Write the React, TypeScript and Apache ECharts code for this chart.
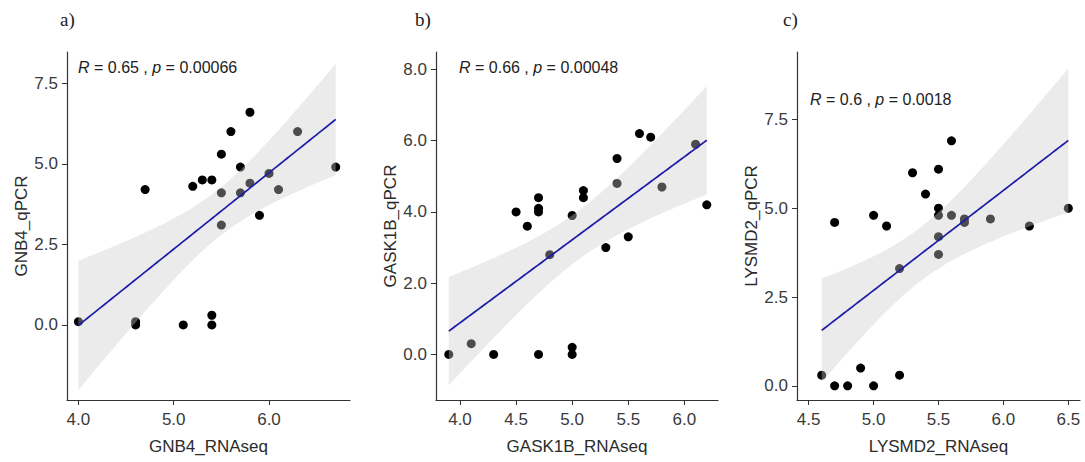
import React, { useEffect, useRef } from "react";
import * as echarts from "echarts";

// ---- Data ----
const aRNA = [4.0, 4.6, 4.6, 4.7, 5.1, 5.2, 5.3, 5.4, 5.4, 5.4, 5.5, 5.5, 5.5, 5.6, 5.7, 5.7, 5.8, 5.8, 5.9, 6.0, 6.1, 6.3, 6.7];
const aPCR = [0.1, 0.1, 0.0, 4.2, 0.0, 4.3, 4.5, 4.5, 0.3, 0.0, 5.3, 4.1, 3.1, 6.0, 4.9, 4.1, 6.6, 4.4, 3.4, 4.7, 4.2, 6.0, 4.9];

const bRNA = [3.9, 4.1, 4.3, 4.5, 4.6, 4.7, 4.7, 4.7, 4.7, 4.8, 5.0, 5.0, 5.0, 5.1, 5.1, 5.3, 5.4, 5.4, 5.5, 5.6, 5.7, 5.8, 6.1, 6.2];
const bPCR = [0.0, 0.3, 0.0, 4.0, 3.6, 4.4, 4.1, 4.0, 0.0, 2.8, 3.9, 0.2, 0.0, 4.6, 4.4, 3.0, 5.5, 4.8, 3.3, 6.2, 6.1, 4.7, 5.9, 4.2];

const cRNA = [4.6, 4.7, 4.7, 4.8, 4.9, 5.0, 5.0, 5.1, 5.2, 5.2, 5.3, 5.4, 5.5, 5.5, 5.5, 5.5, 5.5, 5.6, 5.6, 5.7, 5.7, 5.9, 6.2, 6.5];
const cPCR = [0.3, 4.6, 0.0, 0.0, 0.5, 4.8, 0.0, 4.5, 3.3, 0.3, 6.0, 5.4, 6.1, 5.0, 4.8, 4.2, 3.7, 6.9, 4.8, 4.7, 4.6, 4.7, 4.5, 5.0];

const aXTicks = [4.0, 5.0, 6.0];
const aYTicks = [0.0, 2.5, 5.0, 7.5];
const bXTicks = [4.0, 4.5, 5.0, 5.5, 6.0];
const bYTicks = [0.0, 2.0, 4.0, 6.0, 8.0];
const cXTicks = [4.5, 5.0, 5.5, 6.0, 6.5];
const cYTicks = [0.0, 2.5, 5.0, 7.5];

const panelLetters = ["a)", "b)", "c)"];
const xTitles = ["GNB4_RNAseq", "GASK1B_RNAseq", "LYSMD2_RNAseq"];
const yTitles = ["GNB4_qPCR", "GASK1B_qPCR", "LYSMD2_qPCR"];
const rValues = ["0.65", "0.66", "0.6"];
const pValues = ["0.00066", "0.00048", "0.0018"];

// ---- linear model with 95% confidence band (as geom_smooth(method = "lm")) ----
function tQuantile(df: number) {
  const z = 1.959964;
  return (
    z +
    (z ** 3 + z) / (4 * df) +
    (5 * z ** 5 + 16 * z ** 3 + 3 * z) / (96 * df ** 2) +
    (3 * z ** 7 + 19 * z ** 5 + 17 * z ** 3 - 15 * z) / (384 * df ** 3)
  );
}

function lmFit(xs: number[], ys: number[]) {
  const n = xs.length;
  const mx = xs.reduce((s, v) => s + v, 0) / n;
  const my = ys.reduce((s, v) => s + v, 0) / n;
  let sxx = 0, sxy = 0;
  for (let i = 0; i < n; i++) {
    sxx += (xs[i] - mx) ** 2;
    sxy += (xs[i] - mx) * (ys[i] - my);
  }
  const b = sxy / sxx;
  const a = my - b * mx;
  let sse = 0;
  for (let i = 0; i < n; i++) sse += (ys[i] - a - b * xs[i]) ** 2;
  const s = Math.sqrt(sse / (n - 2));
  const t = tQuantile(n - 2);
  const lo = Math.min(...xs), hi = Math.max(...xs);
  const line: number[][] = [], upper: number[][] = [], lower: number[][] = [];
  const steps = 80;
  for (let i = 0; i < steps; i++) {
    const x = lo + ((hi - lo) * i) / (steps - 1);
    const yh = a + b * x;
    const se = s * Math.sqrt(1 / n + (x - mx) ** 2 / sxx);
    line.push([x, yh]);
    upper.push([x, yh + t * se]);
    lower.push([x, yh - t * se]);
  }
  return { line, band: upper.concat(lower.slice().reverse()) };
}

const panels = [
  { xs: aRNA, ys: aPCR, xt: aXTicks, yt: aYTicks, xMin: 3.88, xMax: 6.85, yMin: -2.33, yMax: 8.47, left: 67, width: 283, labelX: 78, labelY: 68, letterX: 60 },
  { xs: bRNA, ys: bPCR, xt: bXTicks, yt: bYTicks, xMin: 3.786, xMax: 6.30, yMin: -1.28, yMax: 8.49, left: 436, width: 282, labelX: 459, labelY: 68, letterX: 415 },
  { xs: cRNA, ys: cPCR, xt: cXTicks, yt: cYTicks, xMin: 4.41, xMax: 6.59, yMin: -0.40, yMax: 9.40, left: 797, width: 283, labelX: 810, labelY: 100, letterX: 783 },
];

const GRID_TOP = 52;
const GRID_H = 348;
const FONT = "'Liberation Sans', Arial, sans-serif";

export default function App() {
  const ref = useRef<HTMLDivElement>(null);
  useEffect(() => {
    if (!ref.current) return;
    const chart = echarts.init(ref.current, undefined, { renderer: "svg" });

    const grid: any[] = [], xAxis: any[] = [], yAxis: any[] = [], series: any[] = [], graphic: any[] = [];
    panels.forEach((p, i) => {
      grid.push({ left: p.left, top: GRID_TOP, width: p.width, height: GRID_H, containLabel: false });
      const axisCommon = {
        type: "value",
        splitLine: { show: false },
        axisLine: { show: true, onZero: false, lineStyle: { color: "#333", width: 1.2 } },
        axisTick: { show: true, inside: false, length: 5, lineStyle: { color: "#333", width: 1 } },
        nameLocation: "middle",
        nameTextStyle: { fontFamily: FONT, fontSize: 17, color: "#2b2b2b" },
      };
      xAxis.push({
        ...axisCommon,
        gridIndex: i,
        min: p.xMin,
        max: p.xMax,
        name: xTitles[i],
        nameGap: 38,
        axisTick: { ...axisCommon.axisTick, customValues: p.xt },
        axisLabel: { customValues: p.xt, formatter: (v: number) => v.toFixed(1), fontFamily: FONT, fontSize: 17, color: "#3a3a3a", margin: 11 },
      });
      yAxis.push({
        ...axisCommon,
        gridIndex: i,
        min: p.yMin,
        max: p.yMax,
        name: yTitles[i],
        nameGap: 36,
        axisTick: { ...axisCommon.axisTick, customValues: p.yt },
        axisLabel: { customValues: p.yt, formatter: (v: number) => v.toFixed(1), fontFamily: FONT, fontSize: 17, color: "#3a3a3a", margin: 9 },
      });
      const fit = lmFit(p.xs, p.ys);
      series.push({
        type: "scatter",
        xAxisIndex: i,
        yAxisIndex: i,
        data: p.xs.map((x, k) => [x, p.ys[k]]),
        symbol: "circle",
        symbolSize: 9,
        itemStyle: { color: "#000", opacity: 1 },
        z: 2,
      });
      series.push({
        type: "custom",
        xAxisIndex: i,
        yAxisIndex: i,
        data: fit.band,
        clip: true,
        z: 3,
        renderItem: (params: any, api: any) => {
          if (params.dataIndex !== 0) return null;
          const pts = fit.band.map((d) => api.coord(d));
          return { type: "polygon", shape: { points: pts }, style: { fill: "rgba(203,203,203,0.38)", stroke: "none" } };
        },
      });
      series.push({
        type: "line",
        xAxisIndex: i,
        yAxisIndex: i,
        data: fit.line,
        showSymbol: false,
        symbol: "none",
        lineStyle: { color: "#1c1ca8", width: 1.7 },
        z: 4,
      });
      graphic.push({
        type: "text",
        left: p.letterX,
        top: 10,
        style: { text: panelLetters[i], font: "19px 'Liberation Serif', 'Times New Roman', serif", fill: "#222" },
      });
      graphic.push({
        type: "text",
        left: p.labelX,
        top: p.labelY - 9,
        style: {
          text: `{i|R} = ${rValues[i]} , {i|p} = ${pValues[i]}`,
          font: `16px ${FONT}`,
          fill: "#222",
          rich: { i: { fontStyle: "italic", fontFamily: FONT, fontSize: 16, fill: "#222", color: "#222" } },
        },
      });
    });

    chart.setOption({
      animation: false,
      backgroundColor: "#fff",
      grid,
      xAxis,
      yAxis,
      series,
      graphic,
    });
    return () => chart.dispose();
  }, []);
  return <div ref={ref} style={{ position: "absolute", left: 0, top: 0, width: 1085, height: 462 }} />;
}
